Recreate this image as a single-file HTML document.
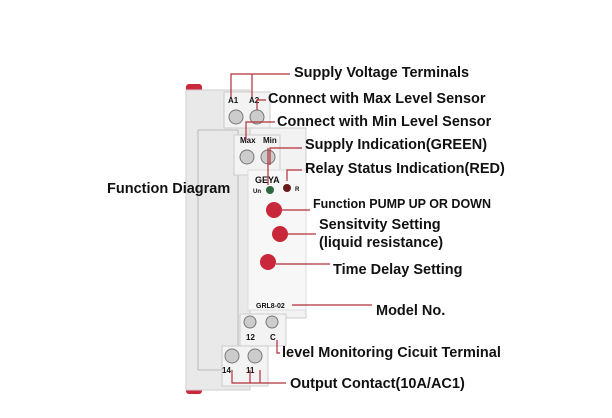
<!DOCTYPE html>
<html><head><style>
html,body{margin:0;padding:0;background:#fff;width:612px;height:418px;overflow:hidden}
svg{display:block}
text{font-family:"Liberation Sans",sans-serif;font-weight:bold;fill:#111}
</style></head><body>
<svg width="612" height="418" viewBox="0 0 612 418">
<rect x="186" y="84" width="16" height="10" rx="3" fill="#c8283a"/>
<rect x="186" y="380" width="16" height="14" rx="3" fill="#c8283a"/>
<rect x="186" y="90" width="64" height="300" fill="#e9e9e9" stroke="#cfcfcf"/>
<rect x="198" y="130" width="40" height="240" fill="none" stroke="#bbb" stroke-width="1"/>
<rect x="250" y="128" width="56" height="190" fill="#f2f2f2" stroke="#ccc"/>
<rect x="224" y="92" width="46" height="36" fill="#f3f3f3" stroke="#ccc"/>
<text x="228" y="103" font-size="8" font-weight="normal" fill="#333">A1</text>
<text x="249" y="103" font-size="8" font-weight="normal" fill="#333">A2</text>
<circle cx="236" cy="117" r="7" fill="#ccc" stroke="#777"/>
<circle cx="257" cy="117" r="7" fill="#ccc" stroke="#777"/>
<rect x="234" y="135" width="46" height="40" fill="#f3f3f3" stroke="#ccc"/>
<text x="240" y="143" font-size="8" font-weight="normal" fill="#444">Max</text>
<text x="263" y="143" font-size="8" font-weight="normal" fill="#444">Min</text>
<circle cx="247" cy="157" r="7" fill="#ccc" stroke="#777"/>
<circle cx="268" cy="157" r="7" fill="#ccc" stroke="#777"/>
<rect x="248" y="170" width="58" height="140" fill="#f7f7f7" stroke="#ddd"/>
<text x="255" y="183" font-size="9" fill="#777">GEYA</text>
<text x="253" y="193" font-size="6" font-weight="normal" fill="#333">Un</text>
<circle cx="270" cy="190" r="4" fill="#2a6a3a"/>
<circle cx="287" cy="188" r="4" fill="#6a1a1a"/>
<text x="295" y="191" font-size="6" font-weight="normal" fill="#333">R</text>
<circle cx="274" cy="210" r="8" fill="#c8283a"/>
<circle cx="280" cy="234" r="8" fill="#c8283a"/>
<circle cx="268" cy="262" r="8" fill="#c8283a"/>
<text x="256" y="308" font-size="7" font-weight="normal" fill="#444">GRL8-02</text>
<rect x="240" y="314" width="46" height="32" fill="#f3f3f3" stroke="#ccc"/>
<circle cx="250" cy="322" r="6" fill="#ccc" stroke="#777"/>
<circle cx="272" cy="322" r="6" fill="#ccc" stroke="#777"/>
<text x="246" y="340" font-size="8" font-weight="normal" fill="#333">12</text>
<text x="270" y="340" font-size="8" font-weight="normal" fill="#333">C</text>
<rect x="222" y="346" width="46" height="40" fill="#f3f3f3" stroke="#ccc"/>
<circle cx="232" cy="356" r="7" fill="#ccc" stroke="#777"/>
<circle cx="255" cy="356" r="7" fill="#ccc" stroke="#777"/>
<text x="222" y="373" font-size="8" font-weight="normal" fill="#333">14</text>
<text x="246" y="373" font-size="8" font-weight="normal" fill="#333">11</text>
<g stroke="#b2303a" stroke-width="1.2" fill="none">
<path d="M231 97 V74 H290"/><path d="M252 97 V74"/>
<path d="M257 110 V100 H266"/>
<path d="M246 140 V122 H275"/>
<path d="M270 165 V148 H302"/>
<path d="M268 185 V148"/>
<path d="M287 181 V170 H302"/>
<path d="M282 210 H310"/>
<path d="M288 234 H316"/>
<path d="M276 264 H330"/>
<path d="M292 305 H372"/>
<path d="M277 340 V353 H280"/>
<path d="M232 370 V383 H286"/><path d="M250 370 V383"/><path d="M260 370 V383"/>
</g>
<text x="294" y="77" font-size="14.5">Supply Voltage Terminals</text>
<text x="268" y="103" font-size="14.5">Connect with Max Level Sensor</text>
<text x="277" y="126" font-size="14.5">Connect with Min Level Sensor</text>
<text x="305" y="149" font-size="14.5">Supply Indication(GREEN)</text>
<text x="305" y="173" font-size="14.5">Relay Status Indication(RED)</text>
<text x="107" y="193" font-size="14.5">Function Diagram</text>
<text x="313" y="208" font-size="12.5">Function PUMP UP OR DOWN</text>
<text x="319" y="229" font-size="14.5">Sensitvity Setting</text>
<text x="319" y="247" font-size="14.5">(liquid resistance)</text>
<text x="333" y="274" font-size="14.5">Time Delay Setting</text>
<text x="376" y="315" font-size="14.5">Model No.</text>
<text x="282" y="357" font-size="14.5">level Monitoring Cicuit Terminal</text>
<text x="290" y="388" font-size="14.5">Output Contact(10A/AC1)</text>
</svg>
</body></html>
